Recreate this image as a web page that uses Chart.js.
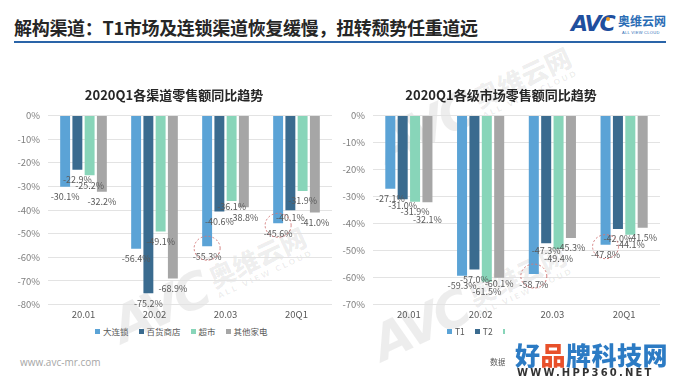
<!DOCTYPE html>
<html><head><meta charset="utf-8">
<script src="https://cdn.jsdelivr.net/npm/chart.js@4.4.1/dist/chart.umd.min.js"></script>
<style>
html,body{margin:0;padding:0;}
body{width:680px;height:383px;background:#fff;position:relative;overflow:hidden;font-family:"Noto Sans CJK SC","Noto Sans",sans-serif;}
#title{position:absolute;left:14px;top:16px;font-size:18px;line-height:22px;font-weight:bold;color:#262626;white-space:nowrap;letter-spacing:-0.3px;}
#rule{position:absolute;left:14px;top:41px;width:652px;height:2px;background:#2A64A8;}
#logoA{position:absolute;left:571px;top:11px;font-family:"DejaVu Sans",sans-serif;font-size:22px;font-weight:bold;color:#1F4F9E;letter-spacing:-2px;font-style:italic;}
#logoB{position:absolute;left:618px;top:14px;font-size:12px;font-weight:bold;color:#2A6DB5;line-height:14px;}
#logoC{position:absolute;left:622px;top:30px;font-family:"Liberation Sans",sans-serif;font-size:4px;color:#2A6DB5;letter-spacing:0.3px;}
#dot{position:absolute;left:606px;top:17px;width:4px;height:4px;border-radius:2px;background:#F39A1E;}
.bgwm{position:absolute;width:220px;height:60px;transform:rotate(-25deg);transform-origin:50% 50%;color:rgba(0,0,0,0.07);display:flex;align-items:center;white-space:nowrap;}
.bgwm .a{font-family:"DejaVu Sans",sans-serif;font-size:50px;font-weight:bold;font-style:italic;letter-spacing:-4px;margin-right:8px;}
.bgwm .b{display:flex;flex-direction:column;}
.bgwm .b1{font-size:26px;font-weight:900;line-height:30px;}
.bgwm .b2{font-family:"DejaVu Sans",sans-serif;font-size:8px;font-weight:bold;letter-spacing:2px;line-height:10px;}
#bg1{left:105px;top:252px;}
#bg2{left:370px;top:72px;}
#bg3{left:365px;top:270px;}
.wrap{position:absolute;}
#w1{left:0;top:84px;width:356px;height:240px;}
#w2{left:340px;top:84px;width:326px;height:240px;}
.legend{position:absolute;top:325px;height:12px;display:flex;align-items:center;font-size:8.5px;color:#595959;white-space:nowrap;}
.legend .it{display:flex;align-items:center;margin-right:10px;}
.legend .bx{width:5px;height:5px;margin-right:3px;}
#lg1{left:95px;}
#lg2{left:447px;}
#foot{position:absolute;left:20px;top:355px;font-size:10px;color:#A6A6A6;font-family:"Open Sans",sans-serif;}
#src{position:absolute;left:490px;top:356px;font-size:8px;color:#595959;white-space:nowrap;}
#wm{position:absolute;left:505px;top:326px;width:175px;height:57px;background:#fff;}
#wm1{position:absolute;left:10px;top:14px;font-size:25px;line-height:28px;font-weight:900;color:#2C7BC4;white-space:nowrap;letter-spacing:0.5px;}
#wm1 span{color:#E8502A;}
#wm2{position:absolute;left:12px;top:41px;font-family:"DejaVu Sans",sans-serif;font-size:10px;line-height:12px;font-weight:bold;color:#333;letter-spacing:2.2px;white-space:nowrap;}
</style></head><body>
<div class="bgwm" id="bg1"><span class="a">AVC</span><span class="b"><span class="b1">奥维云网</span><span class="b2">ALL VIEW CLOUD</span></span></div>
<div class="bgwm" id="bg2"><span class="a">AVC</span><span class="b"><span class="b1">奥维云网</span><span class="b2">ALL VIEW CLOUD</span></span></div>
<div class="bgwm" id="bg3"><span class="a">AVC</span><span class="b"><span class="b1">奥维云网</span><span class="b2">ALL VIEW CLOUD</span></span></div>
<div id="title">解构渠道：T1市场及连锁渠道恢复缓慢，扭转颓势任重道远</div>
<div id="rule"></div>
<div id="logoA">AVC</div><div id="dot"></div>
<div id="logoB">奥维云网</div>
<div id="logoC">ALL VIEW CLOUD</div>
<div class="wrap" id="w1"><canvas id="c1" width="356" height="240"></canvas></div>
<div class="wrap" id="w2"><canvas id="c2" width="326" height="240"></canvas></div>
<div class="legend" id="lg1"></div>
<div class="legend" id="lg2"></div>
<div id="foot">www.avc-mr.com</div>
<div id="src">数据来源：奥维云网</div>
<div id="wm"><div id="wm1">好<span>品</span>牌科技网</div><div id="wm2">WWW.HPP360.NET</div></div>
<script>
// ---- data ----
const categories = ['20.01', '20.02', '20.03', '20Q1'];
const channelNames = ['大连锁', '百货商店', '超市', '其他家电'];
const chainStore = [-30.1, -56.4, -55.3, -45.6];
const deptStore = [-22.9, -75.2, -40.6, -40.1];
const supermarket = [-25.2, -49.1, -36.1, -31.9];
const otherAppliance = [-32.2, -68.9, -38.8, -41.0];
const tierNames = ['T1', 'T2', 'T3', 'T4'];
const tier1 = [-27.1, -59.3, -58.7, -47.8];
const tier2 = [-31.0, -57.0, -47.3, -42.0];
const tier3 = [-31.9, -61.5, -49.4, -44.1];
const tier4 = [-32.1, -60.1, -45.3, -41.5];
const leftTitle = '2020Q1各渠道零售额同比趋势';
const rightTitle = '2020Q1各级市场零售额同比趋势';
const leftMin = -80, rightMin = -70;
// highlighted (dashed circle) bars: [datasetIndex, categoryIndex]
const leftCircled = [[0, 2], [0, 3]];
const rightCircled = [[0, 2], [0, 3]];
// label nudges to avoid overlap: [datasetIndex, categoryIndex, dy]
const leftNudge = [[2, 2, -4], [1, 3, -3]];
const rightNudge = [[1, 0, -3.5], [3, 0, 7.5], [1, 2, -3], [3, 1, -4]];

const colors = ['#5BA3D6', '#3A6B8F', '#88D5B9', '#A6A6A6'];
const FONT = '"Noto Sans CJK SC", "Noto Sans", sans-serif';

const barLabels = {
  id: 'barLabels',
  afterDatasetsDraw(chart, args, opts) {
    const ctx = chart.ctx;
    ctx.save();
    ctx.font = '9px ' + FONT;
    ctx.fillStyle = '#595959';
    ctx.textAlign = 'center';
    ctx.textBaseline = 'middle';
    chart.data.datasets.forEach((ds, di) => {
      chart.getDatasetMeta(di).data.forEach((el, i) => {
        let dy = 10;
        (opts.nudge || []).forEach(([a, b, d]) => { if (a === di && b === i) dy += d; });
        ctx.fillText(ds.data[i].toFixed(1) + '%', el.x, el.y + dy);
      });
    });
    ctx.restore();
  }
};
const circleMarks = {
  id: 'circleMarks',
  afterDraw(chart, args, opts) {
    const ctx = chart.ctx;
    ctx.save();
    ctx.strokeStyle = '#D27A7A';
    ctx.lineWidth = 1;
    ctx.setLineDash([2, 2]);
    (opts.marks || []).forEach(([di, i]) => {
      const el = chart.getDatasetMeta(di).data[i];
      ctx.beginPath();
      ctx.ellipse(el.x, el.y + 2, 13, 12, 0, 0, Math.PI * 2);
      ctx.stroke();
    });
    ctx.restore();
  }
};

function makeLegend(id, names) {
  const el = document.getElementById(id);
  names.forEach((n, k) => {
    const it = document.createElement('div'); it.className = 'it';
    const bx = document.createElement('div'); bx.className = 'bx'; bx.style.background = colors[k];
    const tx = document.createElement('span'); tx.textContent = n;
    it.appendChild(bx); it.appendChild(tx); el.appendChild(it);
  });
}

function makeChart(id, title, names, series, min, marks, nudge, padLeft, axisWidth, padRight) {
  return new Chart(document.getElementById(id), {
    type: 'bar',
    data: {
      labels: categories,
      datasets: series.map((d, k) => ({
        label: names[k], data: d, backgroundColor: colors[k],
        categoryPercentage: 0.69, barPercentage: 0.81
      }))
    },
    options: {
      responsive: false, animation: false,
      layout: { padding: { left: padLeft, right: padRight, top: 0, bottom: 0 } },
      scales: {
        x: {
          grid: { display: false, drawTicks: false }, border: { display: false },
          ticks: { color: '#595959', font: { size: 9.5, family: FONT }, padding: 4 }
        },
        y: {
          min: min, max: 0,
          ticks: { stepSize: 10, color: '#7F7F7F', font: { size: 9.5, family: FONT }, padding: 8,
                   callback: v => (v === 0 ? 0 : v) + '%' },
          grid: { color: '#E3E3E3', drawTicks: false }, border: { display: false },
          afterFit: s => { s.width = axisWidth; }
        }
      },
      plugins: {
        title: { display: true, text: title, color: '#262626',
                 font: { size: 13, weight: 'bold', family: FONT }, padding: { top: 3, bottom: 13 } },
        legend: { display: false },
        tooltip: { enabled: false },
        circleMarks: { marks: marks },
        barLabels: { nudge: nudge }
      }
    },
    plugins: [barLabels, circleMarks]
  });
}

makeLegend('lg1', channelNames);
makeLegend('lg2', tierNames);
makeChart('c1', leftTitle, channelNames, [chainStore, deptStore, supermarket, otherAppliance], leftMin, leftCircled, leftNudge, 16, 32, 24);
makeChart('c2', rightTitle, tierNames, [tier1, tier2, tier3, tier4], rightMin, rightCircled, rightNudge, 2, 31, 6);
</script>
</body></html>
